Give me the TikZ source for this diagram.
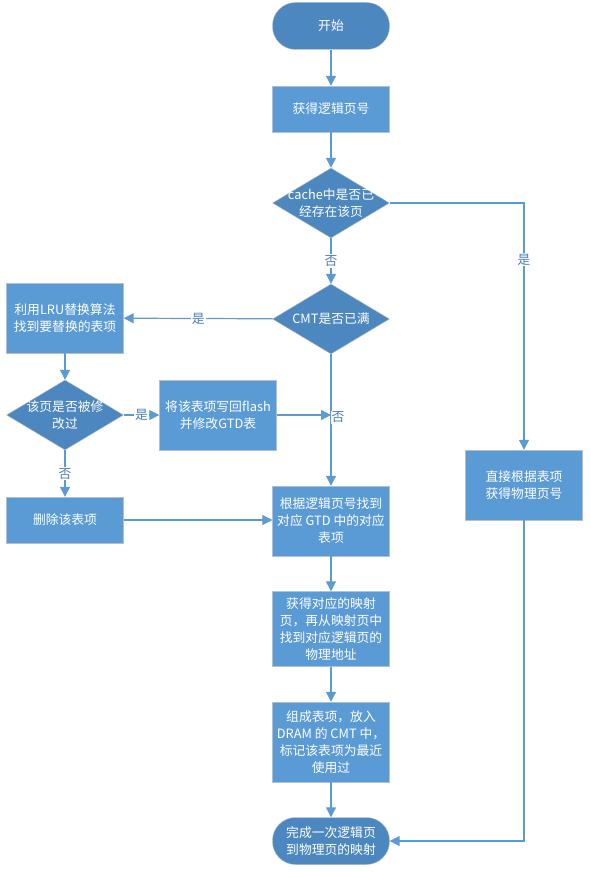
\documentclass[tikz,border=0pt]{standalone}
\usepackage{fontspec}
\newfontfamily\cjk{Noto Sans CJK SC}
\usetikzlibrary{arrows.meta,shapes.geometric}
\definecolor{boxblue}{HTML}{5B9BD5}
\definecolor{darkblue}{HTML}{4D87BF}
\definecolor{edgegray}{HTML}{B4BFCC}
\definecolor{linkblue}{HTML}{5B9BD5}
\definecolor{labelblue}{HTML}{4A7EBB}

\begin{document}
\begin{tikzpicture}[
		x=1pt, y=-1pt,
		every node/.style={
			font=\cjk\fontsize{12.8}{17}\selectfont,
			text=white,
			align=center
		},
		process/.style={rectangle, draw=edgegray, fill=boxblue, minimum width=117pt, minimum height=46pt, inner sep=2pt},
		terminal/.style={rectangle, rounded corners=23pt, draw=edgegray, fill=darkblue, minimum width=117pt, minimum height=47pt},
		decision/.style={diamond, draw=edgegray, fill=darkblue, minimum width=117pt, minimum height=70pt, inner sep=0pt},
		flow/.style={draw=linkblue, line width=1.2pt, -{Triangle[length=10pt,width=10pt]}},
		tag/.style={text=labelblue, fill=white, inner sep=1pt}
		]
		
		\useasboundingbox (0,0) rectangle (590,875);
		
		% main column
		\node[terminal] (start) at (331,26) {开始};
		\node[process] (getpage) at (331,109) {获得逻辑页号};
		\node[decision, label=center:{cache中是否已\\经存在该页}] (incache) at (331,203) {};
		\node[decision, label=center:{CMT是否已满}] (cmtfull) at (331,319) {};
		\node[process, minimum height=70pt] (gtd) at (331,521) {根据逻辑页号找到\\对应 GTD 中的对应\\表项};
		\node[process, minimum height=75pt] (mapping) at (331,629) {获得对应的映射\\页，再从映射页中\\找到对应逻辑页的\\物理地址};
		\node[process, minimum height=80pt] (compose) at (331,742) {组成表项，放入\\DRAM 的 CMT 中，\\标记该表项为最近\\使用过};
		\node[terminal] (finish) at (331,841) {完成一次逻辑页\\到物理页的映射};
		
		% left branch
		\node[process, minimum height=70pt] (lru) at (65,318) {利用LRU替换算法\\找到要替换的表项};
		\node[decision, label=center:{该页是否被修\\改过}] (dirty) at (65,415) {};
		\node[process, minimum height=70pt] (writeback) at (218,415) {将该表项写回flash\\并修改GTD表};
		\node[process] (delete) at (65,520) {删除该表项};
		
		% right branch
		\node[process, minimum height=70pt] (direct) at (524,485) {直接根据表项\\获得物理页号};
		
		% connectors
		\draw[flow] (start) -- (getpage);
		\draw[flow] (getpage) -- (incache);
		\draw[flow] (incache) -- node[tag]{否} (cmtfull);
		\draw[flow] (cmtfull) -- node[tag]{是} (lru);
		\draw[flow] (lru) -- (dirty);
		\draw[flow] (dirty) -- node[tag]{是} (writeback);
		\draw[flow] (dirty) -- node[tag]{否} (delete);
		\draw[flow] (cmtfull) -- (gtd) node[tag, pos=0.48, right=-1pt]{否};
		\draw[flow] (writeback.east) -- (writeback.east -| cmtfull.south);
		\draw[flow] (delete.east) -- (delete.east -| gtd.west);
		\draw[flow] (gtd) -- (mapping);
		\draw[flow] (mapping) -- (compose);
		\draw[flow] (compose) -- (finish);
		\draw[flow] (incache.east) -| node[tag, pos=0.615]{是} (direct);
		\draw[flow] (direct) |- (finish);
		
	\end{tikzpicture}
\end{document}
